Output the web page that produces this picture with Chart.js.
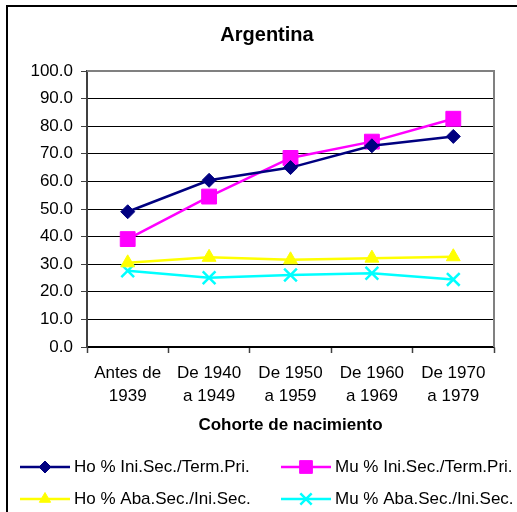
<!DOCTYPE html>
<html>
<head>
<meta charset="utf-8">
<title>Argentina</title>
<script src="https://cdn.jsdelivr.net/npm/chart.js@4.4.1/dist/chart.umd.min.js"></script>
<style>
  html, body { margin: 0; padding: 0; background: #fff; }
  #wrap { position: relative; width: 517px; height: 512px; }
</style>
</head>
<body>
<div id="wrap"><canvas id="chart" width="517" height="512"></canvas></div>
<script>
// Data
const cohorts = [["Antes de", "1939"], ["De 1940", "a 1949"], ["De 1950", "a 1959"], ["De 1960", "a 1969"], ["De 1970", "a 1979"]];
const hoIniSec = [49.0, 60.4, 65.0, 72.9, 76.3];
const muIniSec = [39.1, 54.5, 68.5, 74.4, 82.7];
const hoAbaSec = [30.5, 32.5, 31.6, 32.2, 32.7];
const muAbaSec = [27.6, 25.1, 26.1, 26.7, 24.5];
const seriesNames = ["Ho % Ini.Sec./Term.Pri.", "Mu % Ini.Sec./Term.Pri.", "Ho % Aba.Sec./Ini.Sec.", "Mu % Aba.Sec./Ini.Sec."];
const yMin = 0, yMax = 100, yStep = 10;

const FONT = "'Liberation Sans', Arial, sans-serif";
Chart.defaults.font.family = FONT;
Chart.defaults.color = "#000";

function series(label, data, color, style, radius, legendRadius, borderWidth) {
    return {
        label: label,
        data: data,
        borderColor: color,
        backgroundColor: color,
        borderWidth: 2.5,
        pointStyle: style,
        pointRadius: radius,
        pointHoverRadius: radius,
        pointBackgroundColor: color,
        pointBorderColor: color,
        pointBorderWidth: borderWidth,
        legendRadius: legendRadius,
        tension: 0,
        fill: false
    };
}

// Title, plot frame and outer border
const framePlugin = {
    id: "frame",
    beforeDatasetsDraw(chart) {
        const { ctx, chartArea: a } = chart;
        ctx.save();
        ctx.strokeStyle = "#808080";
        ctx.lineWidth = 2;
        ctx.beginPath();
        ctx.moveTo(a.left, a.top);
        ctx.lineTo(a.right, a.top);
        ctx.lineTo(a.right, a.bottom);
        ctx.stroke();
        ctx.restore();
    },
    afterDraw(chart) {
        const ctx = chart.ctx;
        ctx.save();
        ctx.fillStyle = "#000";
        ctx.font = "bold 20px " + FONT;
        ctx.textAlign = "center";
        ctx.textBaseline = "middle";
        ctx.fillText("Argentina", 267, 35);

        ctx.strokeStyle = "#000";
        ctx.lineWidth = 2;
        ctx.beginPath();
        ctx.moveTo(7, 512);
        ctx.lineTo(7, 6);
        ctx.lineTo(517, 6);
        ctx.stroke();
        ctx.restore();
    }
};

// Excel-style legend: line with marker, two columns
const legendPlugin = {
    id: "legendBox",
    afterDraw(chart) {
        const ctx = chart.ctx;
        const cols = [20, 281];
        const rows = [467, 499];
        chart.data.datasets.forEach((ds, i) => {
            const x = cols[i % 2];
            const y = rows[Math.floor(i / 2)];
            ctx.save();
            ctx.strokeStyle = ds.borderColor;
            ctx.lineWidth = ds.borderWidth;
            ctx.beginPath();
            ctx.moveTo(x, y);
            ctx.lineTo(x + 50, y);
            ctx.stroke();
            ctx.fillStyle = ds.pointBackgroundColor;
            ctx.strokeStyle = ds.pointBorderColor;
            ctx.lineWidth = ds.pointBorderWidth;
            Chart.helpers.drawPoint(ctx, {
                pointStyle: ds.pointStyle,
                radius: ds.legendRadius,
                rotation: 0,
                borderWidth: ds.pointBorderWidth
            }, x + 25, y);
            ctx.fillStyle = "#000";
            ctx.font = "17px " + FONT;
            ctx.textAlign = "left";
            ctx.textBaseline = "middle";
            ctx.fillText(ds.label, x + 54, y);
            ctx.restore();
        });
    }
};

new Chart(document.getElementById("chart"), {
    type: "line",
    data: {
        labels: cohorts,
        datasets: [
            series(seriesNames[0], hoIniSec, "#000080", "rectRot", 7, 6, 1),
            series(seriesNames[1], muIniSec, "#FF00FF", "rect", 10.5, 9, 1),
            series(seriesNames[2], hoAbaSec, "#FFFF00", "triangle", 8, 6.5, 1),
            series(seriesNames[3], muAbaSec, "#00FFFF", "crossRot", 9, 8, 2.5)
        ]
    },
    options: {
        responsive: false,
        animation: false,
        events: [],
        devicePixelRatio: 1,
        layout: { padding: { top: 71, right: 23, bottom: 72, left: 0 } },
        plugins: {
            legend: { display: false },
            title: { display: false },
            tooltip: { enabled: false }
        },
        scales: {
            x: {
                offset: true,
                grid: {
                    display: true,
                    offset: true,
                    drawOnChartArea: false,
                    tickLength: 6,
                    tickColor: "#404040",
                    tickWidth: 1.5
                },
                border: { color: "#000", width: 1.5 },
                ticks: {
                    color: "#000",
                    font: { size: 17, lineHeight: 1.4 },
                    padding: 8,
                    maxRotation: 0,
                    autoSkip: false
                },
                title: {
                    display: true,
                    text: "Cohorte de nacimiento",
                    color: "#000",
                    font: { size: 17, weight: "bold" },
                    padding: { top: 4, bottom: 4 }
                },
                afterFit(scale) { scale.height = 93; }
            },
            y: {
                min: yMin,
                max: yMax,
                grid: {
                    color: "#000",
                    lineWidth: 1,
                    tickLength: 6,
                    tickColor: "#404040"
                },
                border: { color: "#404040", width: 2 },
                ticks: {
                    stepSize: yStep,
                    color: "#000",
                    font: { size: 17 },
                    padding: 8,
                    callback: (v) => Number(v).toFixed(1)
                },
                afterFit(scale) { scale.width = 87; }
            }
        }
    },
    plugins: [framePlugin, legendPlugin]
});
</script>
</body>
</html>
